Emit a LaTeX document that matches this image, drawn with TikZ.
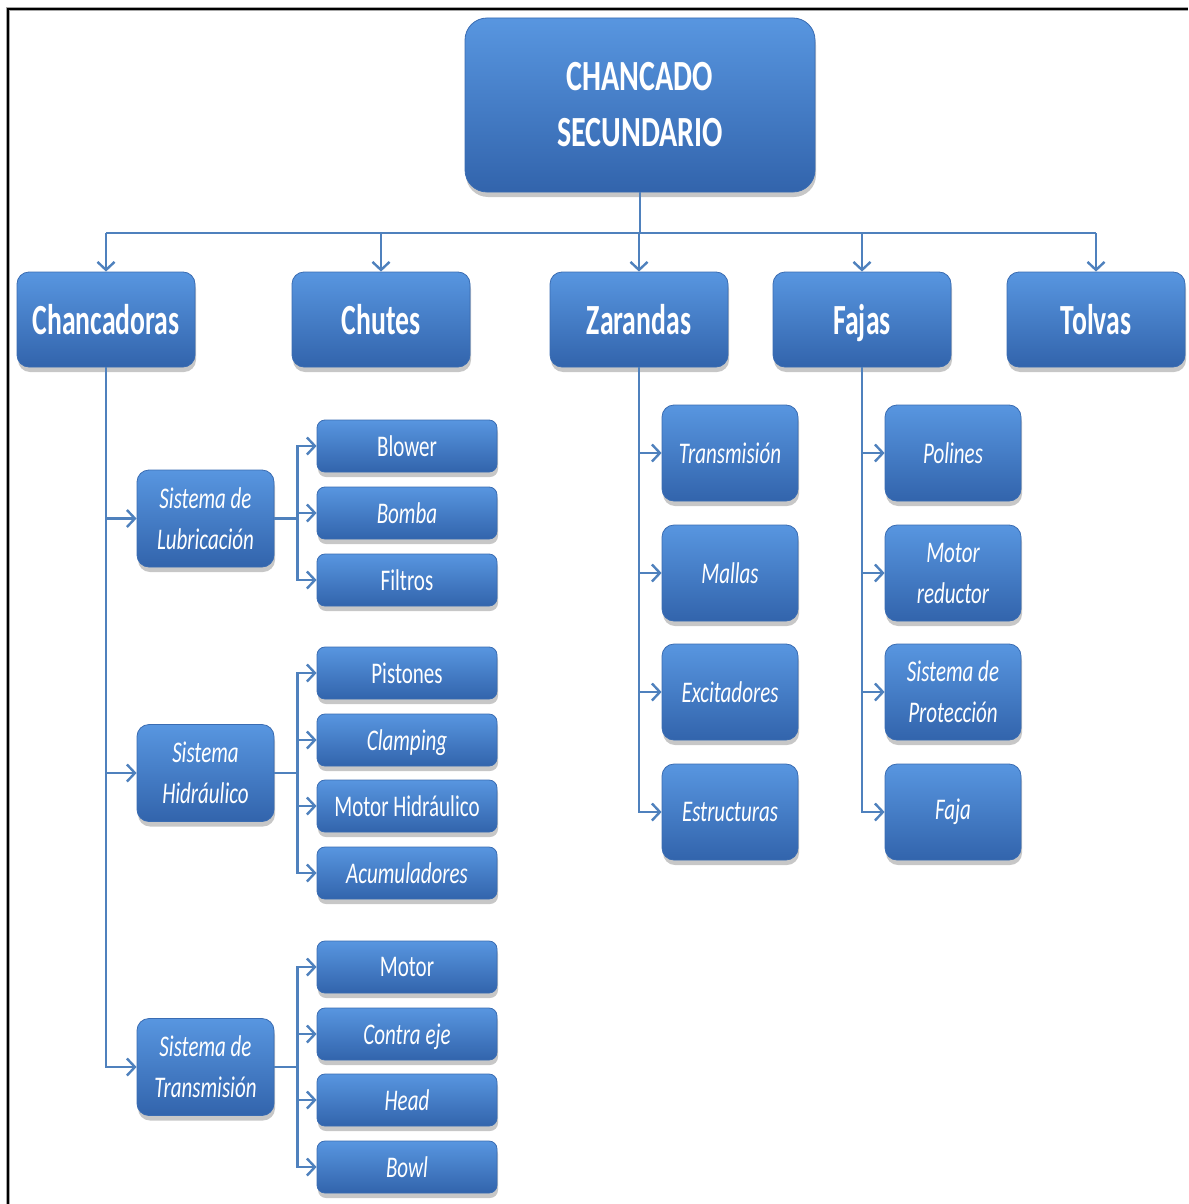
\documentclass[tikz,border=0pt]{standalone}
\usepackage{fontspec}
\setmainfont{Carlito}[FakeStretch=0.7]
\newfontfamily\groupfont{Carlito}[FakeStretch=0.645]
\usetikzlibrary{arrows.meta,shadows}

\definecolor{boxtop}{RGB}{88,150,224}
\definecolor{boxmid}{RGB}{64,126,206}
\definecolor{boxbot}{RGB}{50,100,172}
\definecolor{boxedge}{RGB}{58,108,178}
\definecolor{linkblue}{RGB}{79,129,189}

\begin{document}
\begin{tikzpicture}[x=1pt,y=-1pt,
  box/.style={draw=boxedge, line width=0.8pt, top color=boxtop, middle color=boxmid,
    bottom color=boxbot, text=white, align=center, inner sep=0pt,
    drop shadow={shadow xshift=1pt, shadow yshift=-5pt, opacity=0.22, fill=black}},
  titlebox/.style={box, rounded corners=22pt, minimum width=350pt, minimum height=174pt,
    font=\fontsize{43}{56}\selectfont\bfseries},
  groupbox/.style={box, rounded corners=12pt, minimum width=178pt, minimum height=95pt,
    text depth=0pt, font=\groupfont\fontsize{43}{50}\selectfont\bfseries},
  sysbox/.style={box, rounded corners=12pt, minimum width=137pt, minimum height=97pt,
    font=\fontsize{30}{41}\selectfont\itshape},
  leafbox/.style={box, rounded corners=8pt, minimum width=180pt, minimum height=52pt,
    text depth=0pt, font=\fontsize{30}{41}\selectfont},
  partbox/.style={box, rounded corners=12pt, minimum width=136pt, minimum height=96pt,
    font=\fontsize{30}{41}\selectfont\itshape},
  it/.style={font=\fontsize{30}{41}\selectfont\itshape},
  link/.style={draw=linkblue, line width=2.6pt},
  arr/.style={link, -{Straight Barb[length=8pt,width=17pt,line width=2.4pt]}},
]
\useasboundingbox (0,0) rectangle (1188,1204);

% page frame
\draw[line width=4pt, black!35] (7.5,1204) -- (7.5,9) -- (1188,9);
\draw[line width=2pt, black] (7.5,1204) -- (7.5,9) -- (1188,9);

% root
\node[titlebox] (root) at (640,105) {CHANCADO\\SECUNDARIO};

% main groups
\node[groupbox] (chanc) at (106,319.5) {Chancadoras};
\node[groupbox] (chutes) at (381,319.5) {Chutes};
\node[groupbox] (zar) at (639,319.5) {Zarandas};
\node[groupbox] (fajas) at (862,319.5) {Fajas};
\node[groupbox] (tolvas) at (1096,319.5) {Tolvas};

% crusher subsystems
\node[sysbox] (lub) at (205.5,518.5) {Sistema de\\Lubricación};
\node[sysbox] (hid) at (205.5,773) {Sistema\\Hidráulico};
\node[sysbox] (tra) at (205.5,1067) {Sistema de\\Transmisión};

% crusher components
\node[leafbox] (blower) at (407,446) {Blower};
\node[leafbox, it] (bomba) at (407,513) {Bomba};
\node[leafbox] (filtros) at (407,580) {Filtros};
\node[leafbox] (pist) at (407,673) {Pistones};
\node[leafbox, it] (clamp) at (407,740) {Clamping};
\node[leafbox] (motorh) at (407,806) {Motor Hidráulico};
\node[leafbox, it] (acum) at (407,873) {Acumuladores};
\node[leafbox] (motor) at (407,967) {Motor};
\node[leafbox, it] (contra) at (407,1034) {Contra eje};
\node[leafbox, it] (head) at (407,1100) {Head};
\node[leafbox, it] (bowl) at (407,1167) {Bowl};

% screen components
\node[partbox] (ztrans) at (730,453) {Transmisión};
\node[partbox] (zmall) at (730,573) {Mallas};
\node[partbox] (zexc) at (730,692) {Excitadores};
\node[partbox] (zest) at (730,812) {Estructuras};

% belt components
\node[partbox] (fpol) at (953,453) {Polines};
\node[partbox] (fmot) at (953,573) {Motor\\reductor};
\node[partbox] (fprot) at (953,692) {Sistema de\\Protección};
\node[partbox] (ffaja) at (953,812) {Faja};

% root to groups
\coordinate (bus) at (640,233);
\draw[link] (root.south) -- (root.south |- bus);
\draw[link] (chanc.north |- bus) -- (tolvas.north |- bus);
\foreach \g in {chanc,chutes,zar,fajas,tolvas}
  \draw[arr] (\g.north |- bus) -- (\g.north);

% crushers
\draw[arr] (chanc.south) |- (tra.west);
\draw[arr] (chanc.south |- lub.west) -- (lub.west);
\draw[arr] (chanc.south |- hid.west) -- (hid.west);

\coordinate (jl) at ([xshift=23pt]lub.east);
\draw[link] (lub.east) -- (jl);
\foreach \c in {blower,bomba,filtros}
  \draw[arr] (jl) |- (\c.west);

\coordinate (jh) at ([xshift=23pt]hid.east);
\draw[link] (hid.east) -- (jh);
\foreach \c in {pist,clamp,motorh,acum}
  \draw[arr] (jh) |- (\c.west);

\coordinate (jt) at ([xshift=23pt]tra.east);
\draw[link] (tra.east) -- (jt);
\foreach \c in {motor,contra,head,bowl}
  \draw[arr] (jt) |- (\c.west);

% screens
\draw[arr] (zar.south) |- (zest.west);
\foreach \c in {ztrans,zmall,zexc}
  \draw[arr] (zar.south |- \c.west) -- (\c.west);

% belts
\draw[arr] (fajas.south) |- (ffaja.west);
\foreach \c in {fpol,fmot,fprot}
  \draw[arr] (fajas.south |- \c.west) -- (\c.west);
\end{tikzpicture}
\end{document}
